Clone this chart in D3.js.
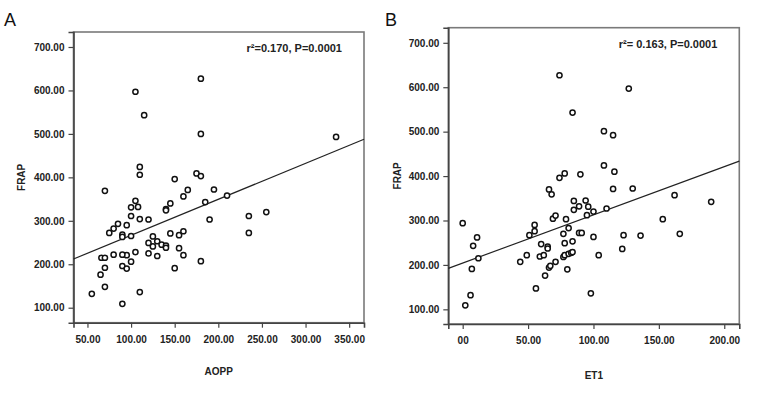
<!DOCTYPE html>
<html>
<head>
<meta charset="utf-8">
<script src="https://cdn.jsdelivr.net/npm/d3@7"></script>
<style>
  body { margin: 0; background: #fff; }
  svg { font-family: "Liberation Sans", Arial, sans-serif; }
</style>
</head>
<body>
<svg id="chart" width="761" height="400"></svg>
<script>
// panel A : AOPP vs FRAP
let aoppX = [180,105,115,180,335,110,110,175,180,150,195,165,70,160,210,105,145,185,100,108,140,140,
  85,80,75,95,100,110,120,190,235,255,90,90,100,125,120,125,130,135,140,140,145,155,160,155,160,235,
  120,130,105,100,95,90,80,66,70,70,65,90,95,55,70,110,90,150,180]
let aoppFrap = [627,597,543,500,493,424,406,409,403,396,372,371,369,356,358,346,340,343,331,332,327,324,
  293,282,272,290,311,304,303,303,311,320,268,263,265,264,249,241,253,245,243,238,271,267,276,237,221,272,
  225,219,228,206,221,222,222,215,215,192,176,196,190,132,148,136,109,191,207]

// panel B : ET1 vs FRAP
let et1X = [74,127,84,108,115,108,116,78,90,74,66,68,115,130,162,190,0,11,8,12,7,6,2,44,49,51,55,55,
  60,59,62,65,65,63,66,67,71,56,69,71,77,78,79,81,77,78,81,83,84,80,84,85,85,89,89,91,94,96,95,100,
  100,98,104,110,122,123,136,153,166]
let et1Frap = [627,597,543,501,492,424,410,406,404,396,370,359,371,372,357,342,294,262,243,215,191,132,109,207,222,267,290,276,
  247,219,222,241,237,176,194,198,207,147,304,311,270,249,303,283,218,222,225,227,229,190,253,344,324,332,272,272,345,331,312,320,
  263,136,222,327,236,267,266,303,270]

let frapTicks = [100, 200, 300, 400, 500, 600, 700]
let aoppTicks = [50, 100, 150, 200, 250, 300, 350]
let et1Ticks = [0, 50, 100, 150, 200]

// fit lines as printed
let fitA = { intercept: 183.9, slope: 0.828, label: "r\u00B2=0.170, P=0.0001" }
let fitB = { intercept: 204.2, slope: 1.085, label: "r\u00B2= 0.163, P=0.0001" }

let svg = d3.select("#chart")

function drawPanel(p) {
  let g = svg.append("g")
  let x = d3.scaleLinear().domain(p.xDomain).range([p.left, p.right])
  let y = d3.scaleLinear().domain(p.yDomain).range([p.bottom, p.top])

  g.append("rect")
    .attr("x", p.left).attr("y", p.top)
    .attr("width", p.right - p.left).attr("height", p.bottom - p.top)
    .attr("fill", "none").attr("stroke", "#7a7a7a").attr("stroke-width", 1.6)

  let yAxis = g.append("g")
    .attr("transform", "translate(" + p.left + ",0)")
    .call(d3.axisLeft(y).tickValues(frapTicks).tickSize(5).tickPadding(4)
      .tickFormat(d => d.toFixed(2)))
  let xAxis = g.append("g")
    .attr("transform", "translate(0," + p.bottom + ")")
    .call(d3.axisBottom(x).tickValues(p.xTicks).tickSize(5).tickPadding(8)
      .tickFormat(d => d === 0 ? "00" : d.toFixed(2)))
  ;[yAxis, xAxis].forEach(a => {
    a.select(".domain").attr("stroke", "#444").attr("stroke-width", 1.6)
    a.selectAll(".tick line").attr("stroke", "#444").attr("stroke-width", 1.2)
    a.selectAll(".tick text").attr("fill", "#222").attr("font-size", 10)
      .attr("font-weight", "bold").attr("font-family", "'Liberation Sans', Arial, sans-serif")
  })

  // regression line
  let x0 = p.xDomain[0], x1 = p.xDomain[1]
  g.append("line")
    .attr("x1", x(x0)).attr("y1", y(p.fit.intercept + p.fit.slope * x0))
    .attr("x2", x(x1)).attr("y2", y(p.fit.intercept + p.fit.slope * x1))
    .attr("stroke", "#222").attr("stroke-width", 1.2)

  g.selectAll("circle.pt")
    .data(p.xs.map((v, i) => [v, p.ys[i]]))
    .enter()
    .append("circle")
    .attr("class", "pt")
    .attr("cx", d => x(d[0]))
    .attr("cy", d => y(d[1]))
    .attr("r", 2.6)
    .attr("fill", "#fff")
    .attr("stroke", "#111")
    .attr("stroke-width", 1.5)

  g.append("text")
    .attr("x", p.right - 22).attr("y", p.top + 20)
    .attr("text-anchor", "end")
    .attr("font-size", 11).attr("font-weight", "bold").attr("fill", "#222")
    .text(p.fit.label)

  g.append("text")
    .attr("transform", "translate(" + p.yLabelX + "," + ((p.top + p.bottom) / 2) + ") rotate(-90)")
    .attr("text-anchor", "middle")
    .attr("font-size", 10).attr("font-weight", "bold").attr("fill", "#222")
    .text("FRAP")

  g.append("text")
    .attr("x", (p.left + p.right) / 2).attr("y", p.xLabelY)
    .attr("text-anchor", "middle")
    .attr("font-size", 10).attr("font-weight", "bold").attr("fill", "#222")
    .text(p.xLabel)

  g.append("text")
    .attr("x", p.letterX).attr("y", 26)
    .attr("font-size", 18).attr("fill", "#111")
    .text(p.letter)
}

drawPanel({
  letter: "A", letterX: 4,
  left: 73.5, right: 364, top: 32, bottom: 322.7,
  xDomain: [34, 367], yDomain: [65.5, 734.5],
  xTicks: aoppTicks, xs: aoppX, ys: aoppFrap, fit: fitA,
  xLabel: "AOPP", xLabelY: 375, yLabelX: 25
})

drawPanel({
  letter: "B", letterX: 385,
  left: 448.3, right: 739.3, top: 27.7, bottom: 324,
  xDomain: [-11, 211.5], yDomain: [67, 734],
  xTicks: et1Ticks, xs: et1X, ys: et1Frap, fit: fitB,
  xLabel: "ET1", xLabelY: 379, yLabelX: 401
})
</script>
</body>
</html>
